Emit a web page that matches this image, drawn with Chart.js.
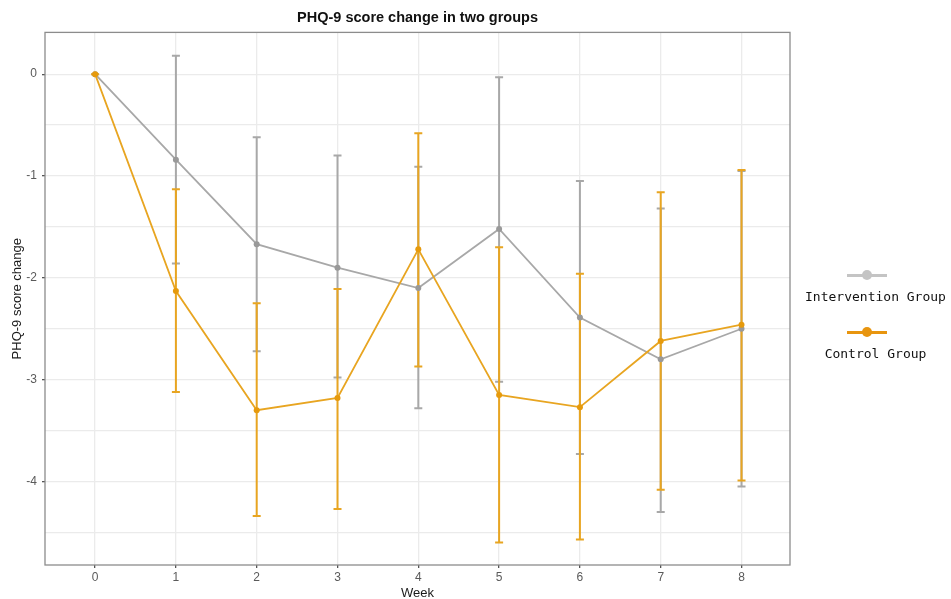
<!DOCTYPE html>
<html>
<head>
<meta charset="utf-8">
<script src="https://cdn.jsdelivr.net/npm/chart.js@4/dist/chart.umd.min.js"></script>
<style>
  body { margin: 0; background: #fff; }
  #wrap { position: relative; width: 951px; height: 599px; }
  #legend { position: absolute; left: 800px; top: 269px; width: 151px; font-family: "DejaVu Sans Mono", "Liberation Mono", monospace; font-size: 13px; color: #111; }
  .item { text-align: center; height: 57px; }
  .mark { position: relative; width: 40px; height: 12px; margin: 0 0 8px 47px; }
  .mark .ln { position: absolute; left: 0; right: 0; top: 5px; height: 2.5px; }
  .mark .dot { position: absolute; left: 15px; top: 1px; width: 10px; height: 10px; border-radius: 50%; }
</style>
</head>
<body>
<div id="wrap">
  <canvas id="phqChart" width="951" height="599"></canvas>
  <div id="legend"></div>
</div>
<script>
// weeks and group means / error bar ends
const weeks = [0, 1, 2, 3, 4, 5, 6, 7, 8];
const intMean  = [0, -0.84, -1.67, -1.90, -2.10, -1.52, -2.39, -2.80, -2.50];
const intUpper = [0,  0.18, -0.62, -0.80, -0.91, -0.03, -1.05, -1.32, -0.95];
const intLower = [0, -1.86, -2.72, -2.98, -3.28, -3.02, -3.73, -4.30, -4.05];
const ctlMean  = [0, -2.13, -3.30, -3.18, -1.72, -3.15, -3.27, -2.62, -2.46];
const ctlUpper = [0, -1.13, -2.25, -2.11, -0.58, -1.70, -1.96, -1.16, -0.94];
const ctlLower = [0, -3.12, -4.34, -4.27, -2.87, -4.60, -4.57, -4.08, -3.99];
const xTicks = [0, 1, 2, 3, 4, 5, 6, 7, 8];
const yTicks = [-4.5, -4, -3.5, -3, -2.5, -2, -1.5, -1, -0.5, 0];

const grayCol = "#a8a8a8";
const orangeCol = "#e8a521";

const data_phq = {
  datasets: [
    {
      label: "Intervention Group",
      data: weeks.map((w, i) => ({ x: w, y: intMean[i] })),
      lower: intLower,
      upper: intUpper,
      borderColor: grayCol,
      backgroundColor: "#999999",
      legendColor: "#c4c4c4",
      borderWidth: 1.8,
      pointRadius: 3,
      pointBorderWidth: 0,
      order: 2,
    },
    {
      label: "Control Group",
      data: weeks.map((w, i) => ({ x: w, y: ctlMean[i] })),
      lower: ctlLower,
      upper: ctlUpper,
      borderColor: orangeCol,
      backgroundColor: "#e69a0c",
      legendColor: "#e8950f",
      borderWidth: 1.8,
      pointRadius: 3,
      pointBorderWidth: 0,
      order: 1,
    },
  ],
};

// vertical error bars with caps, drawn under the lines
const errorBars = {
  id: "errorBars",
  beforeDatasetsDraw(chart) {
    const ctx = chart.ctx;
    const xs = chart.scales.x, ys = chart.scales.y;
    chart.data.datasets.forEach((ds) => {
      ctx.save();
      ctx.strokeStyle = ds.borderColor;
      ctx.lineWidth = 2;
      ds.data.forEach((p, i) => {
        const x = xs.getPixelForValue(p.x);
        const yTop = ys.getPixelForValue(ds.upper[i]);
        const yBot = ys.getPixelForValue(ds.lower[i]);
        ctx.beginPath();
        ctx.moveTo(x, yTop); ctx.lineTo(x, yBot);
        ctx.moveTo(x - 4, yTop); ctx.lineTo(x + 4, yTop);
        ctx.moveTo(x - 4, yBot); ctx.lineTo(x + 4, yBot);
        ctx.stroke();
      });
      ctx.restore();
    });
  },
  afterDraw(chart) {
    const a = chart.chartArea, ctx = chart.ctx;
    ctx.save();
    ctx.strokeStyle = "#8c8c8c";
    ctx.lineWidth = 1.3;
    ctx.strokeRect(a.left, a.top, a.right - a.left, a.bottom - a.top);
    ctx.restore();
  },
};

// html legend: marker line above label, as in the figure
const htmlLegend = {
  id: "htmlLegend",
  afterUpdate(chart) {
    const box = document.getElementById("legend");
    box.innerHTML = "";
    chart.data.datasets.forEach((ds) => {
      const item = document.createElement("div");
      item.className = "item";
      item.innerHTML =
        '<div class="mark"><div class="ln" style="background:' + ds.legendColor + '"></div>' +
        '<div class="dot" style="background:' + ds.legendColor + '"></div></div>' +
        "<div>" + ds.label + "</div>";
      box.appendChild(item);
    });
  },
};

const config_phq = {
  type: "line",
  data: data_phq,
  options: {
    responsive: false,
    animation: false,
    layout: { padding: { right: 161, left: 0, bottom: 0 } },
    scales: {
      x: {
        type: "linear",
        min: -0.62,
        max: 8.6,
        afterBuildTicks: (s) => { s.ticks = xTicks.map((v) => ({ value: v })); },
        afterFit: (s) => { s.height = 34; },
        border: { display: false },
        grid: { color: "#ebebeb", lineWidth: 1.3, tickLength: 3, tickColor: "#555" },
        ticks: { color: "#5a5a5a", padding: 2, font: { family: "Liberation Sans", size: 12 } },
        title: { display: true, text: "Week", color: "#1a1a1a", padding: { top: 0, bottom: -2 }, font: { family: "Liberation Sans", size: 13 } },
      },
      y: {
        type: "linear",
        min: -4.82,
        max: 0.41,
        afterBuildTicks: (s) => { s.ticks = yTicks.map((v) => ({ value: v })); },
        afterFit: (s) => { s.width = 45; },
        border: { display: false },
        grid: {
          color: "#ebebeb",
          lineWidth: 1.3,
          tickLength: 3,
          tickColor: (c) => (c.tick && Number.isInteger(c.tick.value) ? "#555" : "rgba(0,0,0,0)"),
        },
        ticks: {
          color: "#5a5a5a",
          padding: 5,
          font: { family: "Liberation Sans", size: 12 },
          callback: (v) => (Number.isInteger(v) ? String(v) : ""),
        },
        title: { display: true, text: "PHQ-9 score change", color: "#1a1a1a", padding: { top: 10, bottom: 0 }, font: { family: "Liberation Sans", size: 13 } },
      },
    },
    plugins: {
      title: {
        display: true,
        fullSize: false,
        text: "PHQ-9 score change in two groups",
        color: "#111",
        padding: { top: 9, bottom: 6 },
        font: { family: "Liberation Sans", size: 14.5, weight: "bold" },
      },
      legend: { display: false },
      tooltip: { enabled: false },
    },
  },
  plugins: [errorBars, htmlLegend],
};

const phqChart = new Chart(document.getElementById("phqChart"), config_phq);
</script>
</body>
</html>
